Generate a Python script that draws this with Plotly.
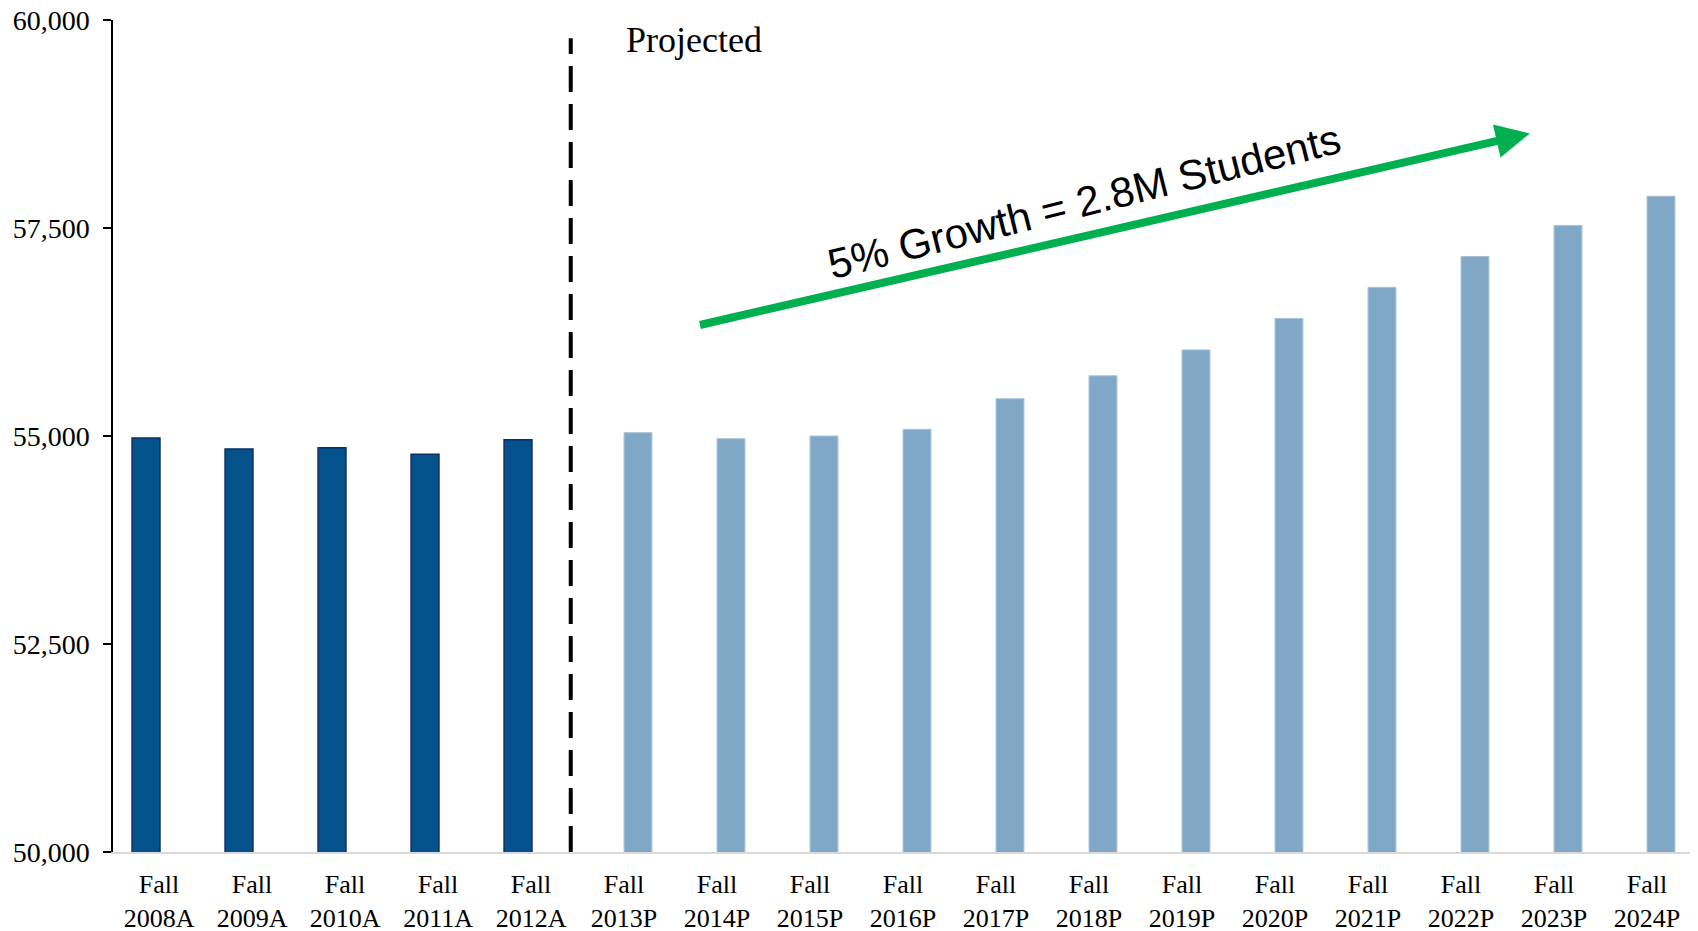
import plotly.graph_objects as go

# ---- data (thousands of students) ----
actual_labels = ["Fall 2008A", "Fall 2009A", "Fall 2010A", "Fall 2011A", "Fall 2012A"]
actual_values = [54975, 54845, 54860, 54780, 54955]

projected_labels = ["Fall 2013P", "Fall 2014P", "Fall 2015P", "Fall 2016P", "Fall 2017P",
                    "Fall 2018P", "Fall 2019P", "Fall 2020P", "Fall 2021P", "Fall 2022P",
                    "Fall 2023P", "Fall 2024P"]
projected_values = [55040, 54968, 55000, 55080, 55448, 55724, 56035, 56413, 56787,
                    57157, 57531, 57882]

y_ticks = [50000, 52500, 55000, 57500, 60000]

# ---- layout helpers ----
PROJ_GAP = 0.29          # extra space between actual and projected bar groups
LABEL_SHIFT = 0.14       # tick labels sit slightly right of the bars
n_act = len(actual_labels)
n_all = n_act + len(projected_labels)
x_act = list(range(n_act))
x_proj = [n_act + i + PROJ_GAP for i in range(len(projected_labels))]
divider_x = (n_act - 1) + 0.567

label_x = [i + LABEL_SHIFT for i in range(n_all)]
label_text = [l.replace(" ", "<br>") for l in actual_labels + projected_labels]

SERIF = "Liberation Serif, Times New Roman, serif"
SANS = "Liberation Sans, Arial, sans-serif"

# page body has an 8px margin: the figure is sized to fit the window
fig = go.Figure()
fig.add_trace(go.Bar(
    x=x_act, y=actual_values, width=0.30,
    marker=dict(color="#03528C", line=dict(color="#0B2E66", width=1.5)),
    showlegend=False, hoverinfo="y",
))
fig.add_trace(go.Bar(
    x=x_proj, y=projected_values, width=0.30,
    marker=dict(color="#80A8C6", line=dict(color="#A8C3D9", width=1)),
    showlegend=False, hoverinfo="y",
))

# dashed divider
fig.add_shape(type="line", xref="x", yref="y",
              x0=divider_x, x1=divider_x, y0=50000, y1=59780,
              line=dict(color="black", width=4, dash="26px,12px"))

# Projected label
fig.add_annotation(x=n_act + 0.14, y=59765, xref="x", yref="y",
                   text="Projected", showarrow=False, xanchor="left", yanchor="middle",
                   font=dict(family=SERIF, size=36, color="black"))

# green growth arrow
fig.add_annotation(x=14.88, y=58637, ax=5.94, ay=56330,
                   xref="x", yref="y", axref="x", ayref="y",
                   text="", showarrow=True, arrowhead=2, arrowsize=0.85,
                   arrowwidth=8, arrowcolor="#00B050")

fig.add_annotation(x=10.09, y=57820, xref="x", yref="y",
                   text="5% Growth = 2.8M Students", showarrow=False,
                   textangle=-14, font=dict(family=SANS, size=42, color="black"))

fig.update_layout(
    width=1690, height=923,
    margin=dict(l=105, r=4, t=11.5, b=79, autoexpand=False),
    plot_bgcolor="white", paper_bgcolor="white",
)
fig.update_xaxes(
    range=[-0.355, x_proj[-1] + 0.355],
    tickmode="array", tickvals=label_x, ticktext=label_text,
    showgrid=False, zeroline=False,
    showline=True, linecolor="#D9D9D9", linewidth=2,
    ticks="", ticklabelstandoff=8, ticklabeloverflow="allow",
    tickfont=dict(family=SERIF, size=26, color="black"),
)
fig.update_yaxes(
    range=[50000, 60000],
    tickmode="array", tickvals=y_ticks, ticktext=[f"{v:,}" for v in y_ticks],
    showgrid=False, zeroline=False,
    showline=True, linecolor="black", linewidth=1.5,
    ticks="outside", ticklen=8, tickcolor="black", tickwidth=1.5,
    ticklabelstandoff=8, ticklabeloverflow="allow",
    tickfont=dict(family=SERIF, size=28, color="black"),
)

fig.write_html("out.html")
